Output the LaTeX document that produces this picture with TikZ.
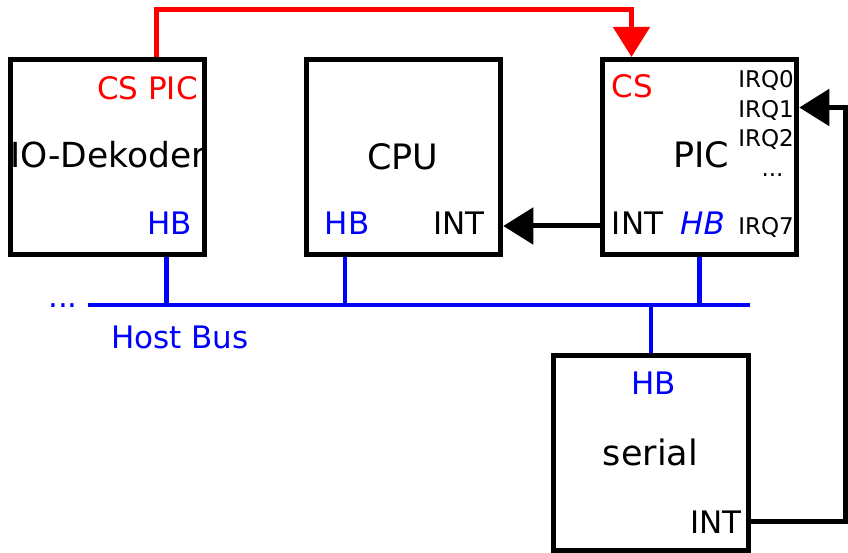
\documentclass[tikz,border=0pt]{standalone}
\usepackage{fontspec}
\setmainfont{DejaVu Sans}
\usetikzlibrary{arrows.meta,calc}
\tikzset{box/.style={draw, line width=5pt, minimum width=194.5pt, minimum height=195pt, inner sep=0pt}}
\tikzset{title/.style={font=\fontsize{35}{42}\selectfont, anchor=base, inner sep=0pt}}
\tikzset{lbl/.style={font=\fontsize{31}{37}\selectfont, anchor=base, inner sep=0pt}}
\tikzset{irq/.style={font=\fontsize{23}{28}\selectfont, anchor=base east, inner sep=0pt}}
\tikzset{bus/.style={blue, line width=4.5pt}}
\tikzset{csline/.style={red, line width=5pt, -{Triangle[length=30pt 0 0,width=36pt 0 0]}}}
\tikzset{intline/.style={black, line width=5pt, -{Triangle[length=30pt 0 0,width=36pt 0 0]}}}

\begin{document}
\begin{tikzpicture}[x=1pt,y=-1pt]
\useasboundingbox (0,0) rectangle (848,553);
\node (io) at (107.5,157)[box]{};
\node (cpu) at (403.5,157)[box]{};
\node (pic) at (699.5,157)[box]{};
\node (ser) at (651,452.5)[box]{};

% IO-Dekoder
\node (iotitle) at (108,167.5)[title, font=\fontsize{34.5}{42}\selectfont]{IO-Dekoder};
\node (iocs) at (198,100)[lbl, anchor=base east, red]{CS PIC};
\node (iohbl) at (169.5,235)[lbl, blue]{HB};

% CPU
\node (cputitle) at (403,170)[title]{CPU};
\node (cpuhbl) at (347,235)[lbl, blue]{HB};
\node (cpuint) at (459,235)[lbl]{INT};

% PIC
\node (pictitle) at (701,168)[title]{PIC};
\node (piccs) at (632.5,98)[lbl, red]{CS};
\node (picint) at (637.5,235)[lbl]{INT};
\node (pichbl) at (702.5,235)[lbl, blue, font=\fontsize{31}{37}\selectfont\itshape]{HB};
\node (irq0) at (794,88)[irq]{IRQ0};
\node (irq1) at (794,118)[irq]{IRQ1};
\node (irq2) at (794,147)[irq]{IRQ2};
\node (irqdots) at (772.5,177)[irq, anchor=base]{...};
\node (irq7) at (794,235)[irq]{IRQ7};

% serial
\node (sertitle) at (650.5,465)[title]{serial};
\node (serhbl) at (653.5,394)[lbl, blue]{HB};
\node (serint) at (742,533)[lbl, anchor=base east]{INT};

% host bus
\coordinate (busL) at (88,305);
\coordinate (busR) at (750,305);
\draw[bus] (busL) -- (busR);
\node (busdots) at (63,307)[lbl, blue]{...};
\node (busname) at (180,348)[lbl, blue]{Host Bus};
\coordinate (iohb) at ([xshift=59pt]io.south);
\coordinate (cpuhb) at ([xshift=-58.5pt]cpu.south);
\draw[bus] (iohb) -- (iohb |- busL);
\draw[bus] (cpuhb) -- (cpuhb |- busL);
\draw[bus] (pic.south) -- (pic.south |- busL);
\draw[bus] (ser.north) -- (ser.north |- busL);

% chip select and interrupts
\coordinate (iocsout) at ([xshift=48.5pt]io.north);
\coordinate (piccsin) at ([xshift=-68pt]pic.north);
\draw[csline] (iocsout) -- ++(0,-47) -| (piccsin);
\draw[intline] ([yshift=-69pt]pic.west) -- ([yshift=-69pt]cpu.east);
\coordinate (serintout) at ([yshift=-68.5pt]ser.east);
\coordinate (picirq1) at ([yshift=49.5pt]pic.east);
\draw[intline] (serintout) -- ++(95,0) |- (picirq1);
\end{tikzpicture}
\end{document}
